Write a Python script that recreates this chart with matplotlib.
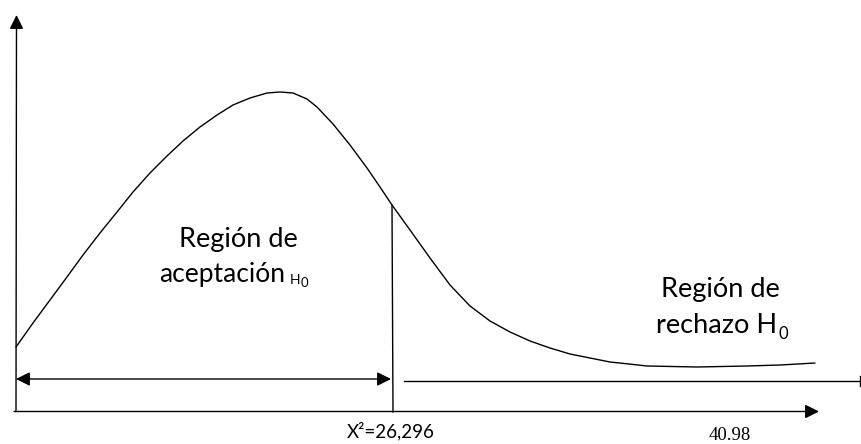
import matplotlib
matplotlib.use("Agg")
import matplotlib.pyplot as plt
from matplotlib.patches import FancyArrowPatch

# Density curve (pixel coordinates of the drawing)
curve_x = [16, 33, 50, 67, 83, 100, 117, 133, 150, 167, 183, 200, 217, 233,
           250, 267, 280, 293, 307, 317, 333, 350, 367, 380, 392,
           410, 430, 450, 470, 490, 510, 530, 550, 570, 590, 610, 629,
           647, 697, 747, 780, 815]
curve_y = [347, 323, 300, 277, 255, 233, 212, 192, 173, 156, 141, 127, 115, 105,
           98, 93, 92, 93, 99, 107, 124, 145, 168, 187, 205,
           230, 258, 285, 306, 321, 332, 341, 348, 354, 358, 362, 364,
           366, 367, 366, 365, 363]

critical_label = "X²=26,296"
table_label = "40.98"
accept_label = ["Región de", "aceptación"]
reject_label = ["Región de", "rechazo H"]

W, H = 861, 444
fig = plt.figure(figsize=(W / 100, H / 100), dpi=100)
ax = fig.add_axes([0, 0, 1, 1])
ax.set_xlim(0, W)
ax.set_ylim(H, 0)
ax.axis("off")

lw = 1.0
k = "black"

def arrow(p0, p1, style):
    a = FancyArrowPatch(p0, p1, arrowstyle=style, mutation_scale=21,
                        shrinkA=0, shrinkB=0, lw=lw, color=k)
    ax.add_patch(a)

# axes
arrow((16, 411.5), (16.5, 15), "-|>")
arrow((14, 411.5), (819, 411.5), "-|>")
# acceptance double arrow
arrow((16, 379), (391, 379), "<|-|>")
# rejection line
ax.plot([404, 860], [381, 381], color=k, lw=lw)
ax.plot([860, 860], [376, 386], color=k, lw=lw)
# critical vertical line
ax.plot([392, 393], [205, 412], color=k, lw=lw)
# curve
ax.plot(curve_x, curve_y, color=k, lw=lw, solid_capstyle="round",
        solid_joinstyle="round")

fam = ["Lato", "DejaVu Sans"]
fs = 19.5
renderer = fig.canvas.get_renderer()

def right_edge(t):
    bb = t.get_window_extent(renderer=renderer)
    x0, _ = ax.transData.inverted().transform((bb.x1, bb.y0))
    return x0

ax.text(238, 247, accept_label[0], ha="center", va="baseline", fontsize=fs, family=fam)
t1 = ax.text(159, 282, accept_label[1], ha="left", va="baseline", fontsize=19, family=fam)
hx = right_edge(t1) + 5
h = ax.text(hx, 284, "H", ha="left", va="baseline", fontsize=10, family=fam)
ax.text(right_edge(h) + 0.5, 287, "0", ha="left", va="baseline", fontsize=9.5, family=fam)

ax.text(720, 297, reject_label[0], ha="center", va="baseline", fontsize=fs, family=fam)
t2 = ax.text(656, 333, reject_label[1], ha="left", va="baseline", fontsize=fs, family=fam)
ax.text(right_edge(t2) + 1, 339, "0", ha="left", va="baseline", fontsize=12, family=fam)

ax.text(347, 437, critical_label, ha="left", va="baseline", fontsize=13.5, family=fam)
ax.text(730, 440, table_label, ha="center", va="baseline", fontsize=13.5,
        family=["Liberation Serif", "DejaVu Serif"])

fig.savefig("out.png", dpi=100)
